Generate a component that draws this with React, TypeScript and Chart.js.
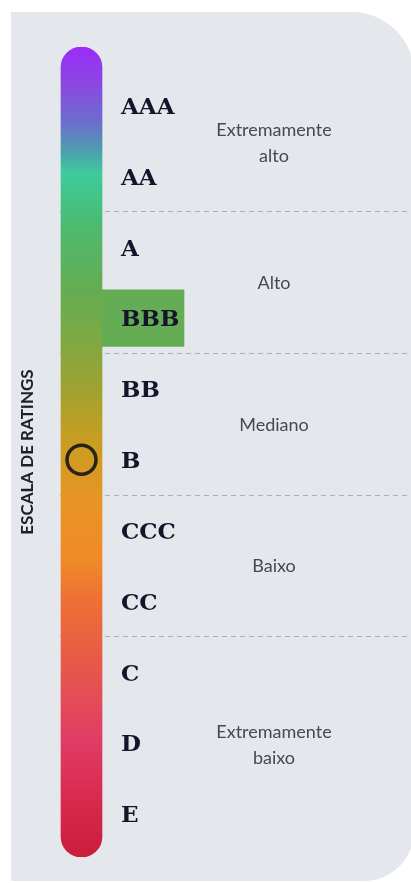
import { useEffect, useRef } from 'react';
import { Chart, registerables } from 'chart.js';

Chart.register(...registerables);

// ---- data ----
const RATINGS = ['AAA', 'AA', 'A', 'BBB', 'BB', 'B', 'CCC', 'CC', 'C', 'D', 'E'];
const RISK_GROUP_LINES = [['Extremamente', 'alto'], ['Alto'], ['Mediano'], ['Baixo'], ['Extremamente', 'baixo']];
const RISK_GROUP_FIRST = ['AAA', 'A', 'BB', 'CCC', 'C'];
const RISK_GROUP_LAST = ['AA', 'BBB', 'B', 'CC', 'E'];
const CURRENT_RATING = 'B';
const HIGHLIGHT_RATING = 'BBB';
const SCALE_RANGE = [-0.83, 10.61];
const AXIS_TITLE = 'ESCALA DE RATINGS';
const GRADIENT_STOPS = [0, 0.047, 0.094, 0.127, 0.156, 0.217, 0.3, 0.349, 0.423, 0.485, 0.559, 0.633, 0.683, 0.757, 0.856, 0.93, 1];
const GRADIENT_COLORS = ['#9b2cf6', '#8a48e2', '#6a70cc', '#4e9db0', '#3ecb9e', '#4cbb72', '#64ad52', '#78aa45', '#a0a230', '#c89e22', '#e89424', '#f08a28', '#ed7034', '#e85a48', '#e03c66', '#d82a4c', '#cc1c3c'];

// ---- layout constants (x axis is a hidden layout axis) ----
const X_MAX = 351;
const BAR_X = 21.5;
const BAR_W = 41;
const HIGHLIGHT_X = 83;
const HIGHLIGHT_W = 82;
const HIGHLIGHT_HALF = 0.4;
const LABEL_X = 61;
const GROUP_TEXT_X = 214;

const idx = (r: string) => RATINGS.indexOf(r);

const panelPlugin = {
  id: 'panel',
  beforeDraw(chart: any) {
    const c = chart.ctx;
    const l = 11, t = 12, r = 414, b = 881, rt = 62, rb = 50;
    c.save();
    c.fillStyle = '#e4e7ec';
    c.beginPath();
    c.moveTo(l, t);
    c.lineTo(r - rt, t);
    c.arcTo(r, t, r, t + rt, rt);
    c.lineTo(r, b - rb);
    c.arcTo(r, b, r - rb, b, rb);
    c.lineTo(l, b);
    c.closePath();
    c.fill();
    c.restore();
  },
};

const labelsPlugin = {
  id: 'ratingLabels',
  afterDatasetsDraw(chart: any) {
    const c = chart.ctx;
    const xs = chart.scales.x;
    const ys = chart.scales.y;
    c.save();
    c.fillStyle = '#14142a';
    c.font = 'bold 23px "DejaVu Serif"';
    c.textAlign = 'left';
    c.textBaseline = 'alphabetic';
    const lx = xs.getPixelForValue(LABEL_X);
    RATINGS.forEach((r, i) => {
      c.fillText(r, lx, ys.getPixelForValue(i) + 8.3);
    });
    c.fillStyle = '#434955';
    c.font = '18px Lato';
    c.textAlign = 'center';
    const gx = xs.getPixelForValue(GROUP_TEXT_X);
    RISK_GROUP_LINES.forEach((lines, g) => {
      const mid = (idx(RISK_GROUP_FIRST[g]) + idx(RISK_GROUP_LAST[g])) / 2;
      const cy = ys.getPixelForValue(mid);
      const lh = 26;
      lines.forEach((line, k) => {
        const y = cy + (k - (lines.length - 1) / 2) * lh + 6.5 + (lines.length > 1 ? 1.5 : 0);
        c.fillText(line, gx, y);
      });
    });
    c.restore();
  },
};

export default function App() {
  const ref = useRef<HTMLCanvasElement | null>(null);
  useEffect(() => {
    if (!ref.current) return;
    let gradient: any = null;
    const chart = new Chart(ref.current, {
      type: 'bar',
      data: {
        datasets: [
          {
            type: 'line',
            order: 1,
            data: [{ x: BAR_X, y: idx(CURRENT_RATING) }],
            showLine: false,
            pointRadius: 14.5,
            pointBorderWidth: 3.5,
            pointBorderColor: '#272318',
            pointBackgroundColor: 'rgba(0,0,0,0)',
          } as any,
          {
            type: 'bar',
            order: 2,
            data: [{ x: HIGHLIGHT_X, y: [idx(HIGHLIGHT_RATING) - HIGHLIGHT_HALF, idx(HIGHLIGHT_RATING) + HIGHLIGHT_HALF] }],
            backgroundColor: '#64ad55',
            barThickness: HIGHLIGHT_W,
            grouped: false,
            borderSkipped: false,
            borderWidth: 0,
          } as any,
          {
            type: 'bar',
            order: 3,
            data: [{ x: BAR_X, y: SCALE_RANGE }],
            backgroundColor: (ctx: any) => {
              const { chart: ch } = ctx;
              const area = ch.chartArea;
              if (!area) return '#64ad52';
              if (!gradient) {
                gradient = ch.ctx.createLinearGradient(0, area.top, 0, area.bottom);
                GRADIENT_STOPS.forEach((s, i) => gradient.addColorStop(s, GRADIENT_COLORS[i]));
              }
              return gradient;
            },
            barThickness: BAR_W,
            grouped: false,
            borderSkipped: false,
            borderRadius: BAR_W / 2,
            borderWidth: 0,
          } as any,
        ],
      },
      options: {
        animation: false,
        responsive: false,
        events: [],
        layout: { autoPadding: false, padding: { left: 10, top: 47, right: 0, bottom: 26 } },
        plugins: { legend: { display: false }, tooltip: { enabled: false } },
        scales: {
          x: { type: 'linear', min: 0, max: X_MAX, display: false, offset: false },
          y: {
            type: 'linear',
            min: SCALE_RANGE[0],
            max: SCALE_RANGE[1],
            reverse: true,
            position: 'left',
            afterBuildTicks: (scale: any) => {
              const b: any[] = [];
              for (let g = 0; g < RISK_GROUP_LAST.length - 1; g++) {
                b.push({ value: idx(RISK_GROUP_LAST[g]) + 0.5 });
              }
              scale.ticks = b;
            },
            ticks: { display: false },
            grid: { display: true, drawTicks: false, color: '#abb0b8', lineWidth: 1 },
            border: { display: false, dash: [5, 4] },
            title: {
              display: true,
              text: AXIS_TITLE,
              color: '#1f1f28',
              font: { family: 'Lato', size: 17, weight: 'bold', lineHeight: 1.2 },
              padding: { top: 7.8, bottom: 21.8 },
            },
          },
        },
      } as any,
      plugins: [panelPlugin, labelsPlugin],
    });
    return () => chart.destroy();
  }, []);
  return (
    <div style={{ position: 'absolute', left: 0, top: 0, width: 411, height: 883 }}>
      <canvas ref={ref} width={411} height={883} style={{ display: 'block' }} />
    </div>
  );
}
